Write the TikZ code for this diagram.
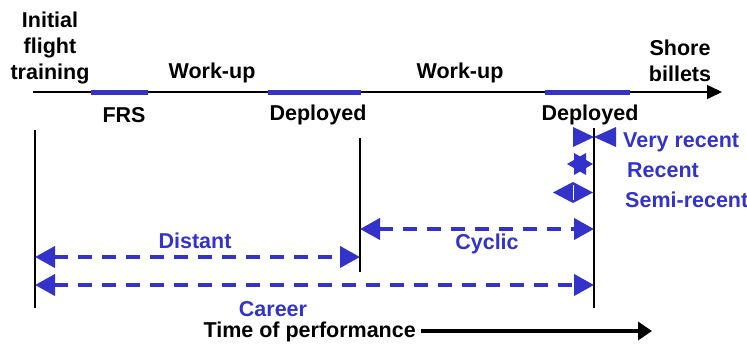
\documentclass[tikz,border=0pt]{standalone}
\usepackage{fontspec}
\setmainfont{Liberation Sans}
\usetikzlibrary{arrows.meta}
\definecolor{tblue}{RGB}{51,51,204}
\begin{document}
\begin{tikzpicture}[x=1pt,y=-1pt,
  lbl/.style={font=\fontsize{21.5}{26}\selectfont\bfseries, inner sep=0pt, align=center},
  blbl/.style={lbl, text=tblue},
  phase/.style={draw=tblue, line width=5pt},
  marker/.style={draw=black, line width=1.2pt},
  span/.style={draw=tblue, line width=4pt, dash pattern=on 14pt off 10pt,
    {Triangle[length=20pt,width=21pt]}-{Triangle[length=20pt,width=21pt]}},
  tip/.style={fill=tblue}]
\useasboundingbox (0,0) rectangle (747,345);

% main time line
\coordinate (t0) at (33,92);
\coordinate (t1) at (722,92);
\draw[line width=1.6pt, -{Triangle[length=15pt,width=14pt]}] (t0) -- (t1);

% phases on the line
\coordinate (frsA) at (91,92);  \coordinate (frsB) at (148,92);
\coordinate (dp1A) at (268,92); \coordinate (dp1B) at (361,92);
\coordinate (dp2A) at (545,92); \coordinate (dp2B) at (630,92);
\draw[phase] (frsA) -- (frsB);
\draw[phase] (dp1A) -- (dp1B);
\draw[phase] (dp2A) -- (dp2B);

% phase labels
\node[lbl] (ift) at (50,48) {Initial\\flight\\training};
\node[lbl] (wu1) at (212,73) {Work-up};
\node[lbl] (wu2) at (460,73) {Work-up};
\node[lbl] (shore) at (680,61) {Shore\\billets};
\node[lbl] (frs) at (124,115) {FRS};
\node[lbl] (dep1) at (318,115) {Deployed};
\node[lbl] (dep2) at (590,115) {Deployed};

% reference marks
\coordinate (v1a) at (35,130);  \coordinate (v1b) at (35,308);
\coordinate (v2a) at (360,138); \coordinate (v2b) at (360,272);
\coordinate (v3a) at (594,128); \coordinate (v3b) at (594,308);
\draw[marker] (v1a) -- (v1b);
\draw[marker] (v2a) -- (v2b);
\draw[marker] (v3a) -- (v3b);

% very recent: two heads meeting at the mark
\fill[tip] (573,127) -- (594,137) -- (573,147) -- cycle;
\fill[tip] (616,127) -- (594,137) -- (616,147) -- cycle;
\node[blbl, anchor=west] (vr) at (623,142) {Very recent};

% recent: overlapping heads
\fill[tip] (574,153) -- (593,164) -- (574,175) -- cycle;
\fill[tip] (586,153) -- (567,164) -- (586,175) -- cycle;
\node[blbl, anchor=west] (rc) at (627,170) {Recent};

% semi-recent: heads pointing apart
\fill[tip] (573,182) -- (553,192.5) -- (573,203) -- cycle;
\fill[tip] (573,182) -- (593,192.5) -- (573,203) -- cycle;
\draw[white, line width=0.8pt] (573,185) -- (573,200);
\node[blbl, anchor=west] (sr) at (625,200) {Semi-recent};

% spans
\coordinate (cyA) at (360,229); \coordinate (cyB) at (594,229);
\coordinate (diA) at (35,257);  \coordinate (diB) at (360,257);
\coordinate (caA) at (35,285);  \coordinate (caB) at (594,285);
\draw[span] (cyA) -- (cyB);
\draw[span] (diA) -- (diB);
\draw[span] (caA) -- (caB);
\node[blbl] (cyc) at (487,244) {Cyclic};
\node[blbl] (dist) at (195,241) {Distant};
\node[blbl] (car) at (273,309) {Career};

% time axis caption
\node[lbl, anchor=east] (tp) at (416,332) {Time of performance};
\coordinate (tpStart) at (421,331);
\coordinate (tpEnd) at (652,331);
\draw[line width=4pt, -{Triangle[length=14pt,width=18pt]}] (tpStart) -- (tpEnd);
\end{tikzpicture}
\end{document}
